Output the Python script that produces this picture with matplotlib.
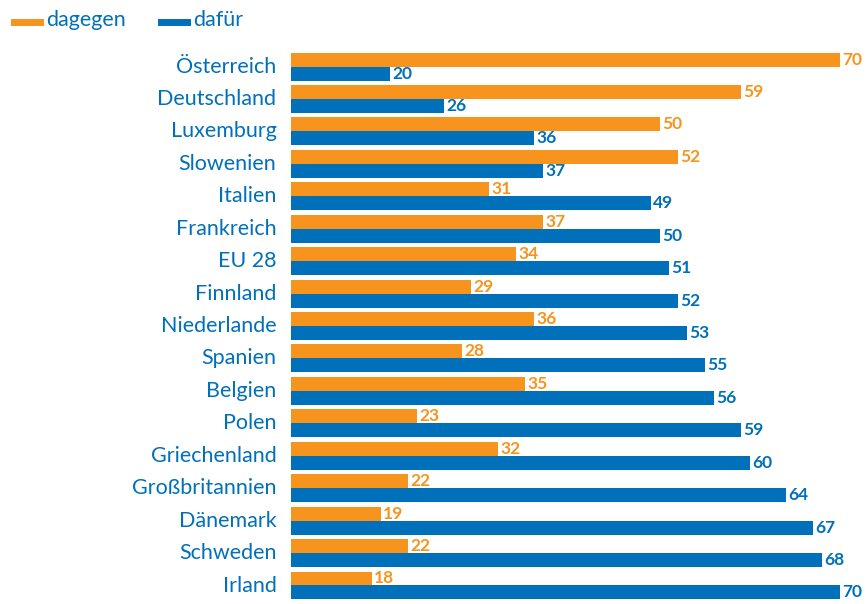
import matplotlib
matplotlib.use("Agg")
import matplotlib.pyplot as plt
import numpy as np

countries = ["Österreich", "Deutschland", "Luxemburg", "Slowenien", "Italien", "Frankreich",
             "EU 28", "Finnland", "Niederlande", "Spanien", "Belgien", "Polen",
             "Griechenland", "Großbritannien", "Dänemark", "Schweden", "Irland"]
dagegen = [70, 59, 50, 52, 31, 37, 34, 29, 36, 28, 35, 23, 32, 22, 19, 22, 18]
dafuer = [20, 26, 36, 37, 49, 50, 51, 52, 53, 55, 56, 59, 60, 64, 67, 68, 70]

ORANGE = "#F7941D"
BLUE = "#0070BA"
plt.rcParams['font.family'] = ['Lato', 'DejaVu Sans']

fig = plt.figure(figsize=(8.67, 6.04), dpi=100)
ax = fig.add_axes([291/867, 1-602/604, (840-291)/867, (602-51)/604])

n = len(countries)
y = np.arange(n)
h = 0.43
ax.barh(y - h/2, dagegen, height=h, color=ORANGE)
ax.barh(y + h/2, dafuer, height=h, color=BLUE)
ax.set_xlim(9, 70)
ax.set_ylim(n - 0.5 + 0.01, -0.5 + 0.02)

for i in range(n):
    ax.text(dagegen[i] + 0.25, y[i] - h/2, str(dagegen[i]), color=ORANGE, fontsize=12.5,
            fontweight='bold', va='center', ha='left', clip_on=False)
    ax.text(dafuer[i] + 0.25, y[i] + h/2, str(dafuer[i]), color=BLUE, fontsize=12.5,
            fontweight='bold', va='center', ha='left', clip_on=False)

ax.set_yticks(y - 0.06)
ax.set_yticklabels(countries, fontsize=15.5, color=BLUE)
ax.tick_params(axis='y', length=0, pad=10.5)
ax.set_xticks([])
for s in ax.spines.values():
    s.set_visible(False)

# legend
fig.add_artist(plt.Line2D([14/867, 40/867], [1-22/604, 1-22/604], color=ORANGE, lw=5))
fig.text(46/867, 1-20/604, "dagegen", color=BLUE, fontsize=15.5, va='center', ha='left')
fig.add_artist(plt.Line2D([161/867, 187/867], [1-22/604, 1-22/604], color=BLUE, lw=5))
fig.text(193/867, 1-20/604, "dafür", color=BLUE, fontsize=15.5, va='center', ha='left')

fig.savefig("out.png", dpi=100)
